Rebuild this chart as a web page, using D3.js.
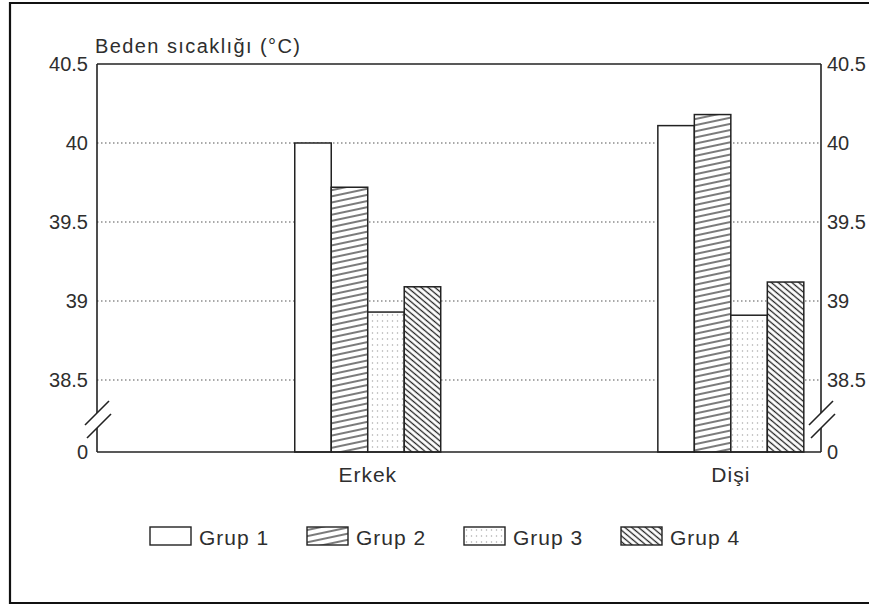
<!DOCTYPE html>
<html>
<head>
<meta charset="utf-8">
<script src="https://cdn.jsdelivr.net/npm/d3@7"></script>
<style>
  html, body { margin: 0; padding: 0; background: #fff; }
  svg { display: block; }
  text { font-family: "Liberation Sans", Arial, sans-serif; fill: #2e2e2e; }
</style>
</head>
<body>
<svg id="chart" width="869" height="608"></svg>
<script>
// ---- data ----
const categories = ["Erkek", "Dişi"];
const groups = ["Grup 1", "Grup 2", "Grup 3", "Grup 4"];
const grup1 = [40.0, 40.11];
const grup2 = [39.72, 40.18];
const grup3 = [38.93, 38.91];
const grup4 = [39.09, 39.12];
const tickValues = [0, 38.5, 39, 39.5, 40, 40.5];
const tickLabels = ["0", "38.5", "39", "39.5", "40", "40.5"];
const gridValues = [38.5, 39, 39.5, 40];
const yTitle = "Beden sıcaklığı (°C)";

const seriesValues = [grup1, grup2, grup3, grup4];
const fills = ["#fff", "url(#hatch2)", "url(#dots3)", "url(#hatch4)"];
const FS = 20;

// ---- layout ----
const svg = d3.select("#chart");
const L = 97, R = 821, T = 64, B = 452;
const breakY = 380; // position of 38.5 (axis broken below)

const y = d3.scaleLinear().domain([0, 38.5, 40.5]).range([B, breakY, T]);
const x0 = d3.scaleBand().domain(categories).range([L, R])
  .paddingInner(0.598).paddingOuter(0.296).align(0.92);
const x1 = d3.scaleBand().domain(groups).range([0, x0.bandwidth()]).padding(0);

// ---- patterns ----
const defs = svg.append("defs");
const p2 = defs.append("pattern").attr("id", "hatch2").attr("patternUnits", "userSpaceOnUse")
  .attr("width", 10).attr("height", 6).attr("patternTransform", "rotate(-12)");
p2.append("rect").attr("width", 10).attr("height", 6).attr("fill", "#fff");
p2.append("line").attr("x1", 0).attr("x2", 10).attr("y1", 3).attr("y2", 3)
  .attr("stroke", "#222").attr("stroke-width", 1.2);

const p4 = defs.append("pattern").attr("id", "hatch4").attr("patternUnits", "userSpaceOnUse")
  .attr("width", 10).attr("height", 4.4).attr("patternTransform", "rotate(40)");
p4.append("rect").attr("width", 10).attr("height", 4.4).attr("fill", "#fff");
p4.append("line").attr("x1", 0).attr("x2", 10).attr("y1", 2.2).attr("y2", 2.2)
  .attr("stroke", "#222").attr("stroke-width", 1.3);

const p3 = defs.append("pattern").attr("id", "dots3").attr("patternUnits", "userSpaceOnUse")
  .attr("width", 5).attr("height", 6);
p3.append("rect").attr("width", 5).attr("height", 6).attr("fill", "#fff");
p3.append("circle").attr("cx", 2.5).attr("cy", 3).attr("r", 0.75).attr("fill", "#aaa");

// ---- outer frame ----
svg.append("path").attr("d", `M869,3 H10 V603 H869`)
  .attr("fill", "none").attr("stroke", "#111").attr("stroke-width", 2.2);

// ---- gridlines ----
svg.append("g").selectAll("line").data(gridValues).join("line")
  .attr("x1", L).attr("x2", R).attr("y1", d => y(d)).attr("y2", d => y(d))
  .attr("stroke", "#555").attr("stroke-width", 1.2).attr("stroke-dasharray", "1.5,2.5");

// ---- bars ----
const barG = svg.append("g");
categories.forEach((c, ci) => {
  groups.forEach((g, gi) => {
    const v = seriesValues[gi][ci];
    barG.append("rect")
      .attr("x", x0(c) + x1(g)).attr("width", x1.bandwidth())
      .attr("y", y(v)).attr("height", y(0) - y(v))
      .attr("fill", fills[gi]).attr("stroke", "#222").attr("stroke-width", 1.5);
  });
});

// ---- plot box with axis breaks ----
const bTop = 413, bBot = 428;
const ax = svg.append("g").attr("stroke", "#222").attr("stroke-width", 1.6).attr("fill", "none");
ax.append("line").attr("x1", L).attr("x2", R).attr("y1", y(40.5)).attr("y2", y(40.5));
ax.append("line").attr("x1", L).attr("x2", R).attr("y1", y(0)).attr("y2", y(0));
[L, R].forEach(xx => {
  ax.append("line").attr("x1", xx).attr("x2", xx).attr("y1", y(40.5)).attr("y2", bTop);
  ax.append("line").attr("x1", xx).attr("x2", xx).attr("y1", bBot).attr("y2", y(0));
  ax.append("line").attr("x1", xx - 12).attr("y1", bTop + 12).attr("x2", xx + 12).attr("y2", bTop - 12);
  ax.append("line").attr("x1", xx - 10).attr("y1", bBot + 10).attr("x2", xx + 14).attr("y2", bBot - 14);
});

// ---- tick labels via axes ----
const fmt = (d) => tickLabels[tickValues.indexOf(d)];
const leftAxis = d3.axisLeft(y).tickValues(tickValues).tickFormat(fmt).tickSize(0).tickPadding(9);
const rightAxis = d3.axisRight(y).tickValues(tickValues).tickFormat(fmt).tickSize(0).tickPadding(6);
const gl = svg.append("g").attr("transform", `translate(${L},0)`).call(leftAxis);
const gr = svg.append("g").attr("transform", `translate(${R},0)`).call(rightAxis);
[gl, gr].forEach(g => {
  g.select(".domain").remove();
  g.selectAll("text").attr("font-size", FS).attr("font-family", "Liberation Sans, Arial, sans-serif")
    .attr("fill", "#2e2e2e");
});

// ---- category labels ----
const xAxis = d3.axisBottom(x0).tickSize(0).tickPadding(15);
const gx = svg.append("g").attr("transform", `translate(0,${B})`).call(xAxis);
gx.select(".domain").remove();
gx.selectAll("text").attr("font-size", FS + 1).attr("font-family", "Liberation Sans, Arial, sans-serif")
  .attr("fill", "#2e2e2e").attr("letter-spacing", 1);

// ---- y title ----
svg.append("text").attr("x", 95).attr("y", 53).attr("font-size", FS)
  .attr("textLength", 205).attr("lengthAdjust", "spacing").text(yTitle);

// ---- legend ----
const lg = svg.append("g").attr("transform", "translate(150,527)");
groups.forEach((g, i) => {
  const it = lg.append("g").attr("transform", `translate(${i * 157},0)`);
  it.append("rect").attr("width", 41).attr("height", 18)
    .attr("fill", fills[i]).attr("stroke", "#222").attr("stroke-width", 1.4);
  it.append("text").attr("x", 49).attr("y", 18).attr("font-size", FS + 1)
    .attr("letter-spacing", 1).text(g);
});
</script>
</body>
</html>
